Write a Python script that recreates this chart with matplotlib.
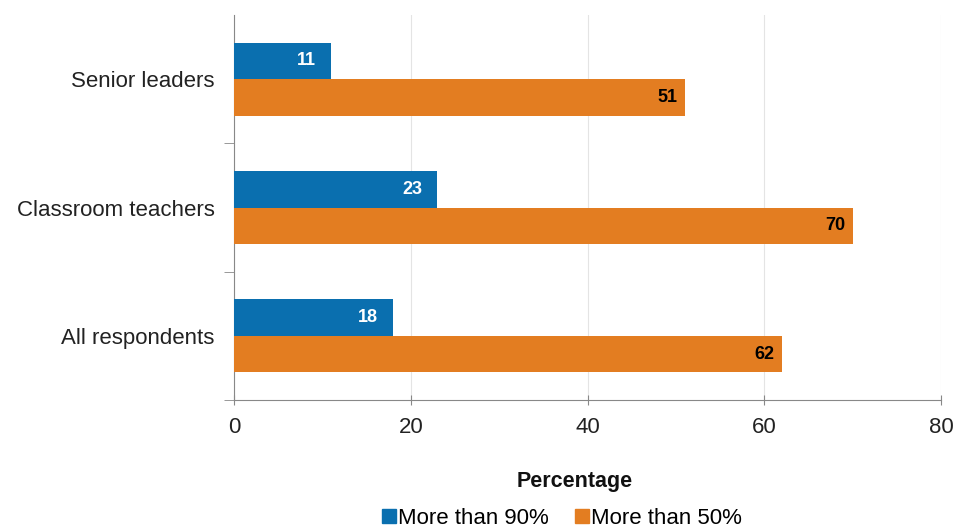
import matplotlib
matplotlib.use("Agg")
import matplotlib.pyplot as plt
import numpy as np
from matplotlib.patches import Patch

categories = ["Senior leaders", "Classroom teachers", "All respondents"]
more_than_90 = [11, 23, 18]
more_than_50 = [51, 70, 62]
series_names = ["More than 90%", "More than 50%"]
xticks = [0, 20, 40, 60, 80]

blue = "#0A6FAF"
orange = "#E37D21"

plt.rcParams['font.family'] = ['Liberation Sans', 'DejaVu Sans']

fig = plt.figure(figsize=(9.56, 5.28), dpi=100)
ax = fig.add_axes([234/956, 1-400/528, (941-234)/956, (400-15)/528])

y = np.arange(len(categories))
h = 0.285
ax.barh(y - h/2, more_than_90, height=h, color=blue, zorder=3)
ax.barh(y + h/2, more_than_50, height=h, color=orange, zorder=3)

for yi, v in zip(y, more_than_90):
    ax.text(v - 2.8, yi - h/2, str(v), ha='center', va='center', color='white',
            fontweight='bold', fontsize=13, zorder=4)
for yi, v in zip(y, more_than_50):
    ax.text(v - 2.0, yi + h/2, str(v), ha='center', va='center', color='black',
            fontweight='bold', fontsize=13, zorder=4)

ax.set_xlim(0, 80)
ax.set_ylim(2.5, -0.5)
ax.set_xticks(xticks)
ax.set_xticklabels([str(t) for t in xticks], fontsize=16, color='#222222')
ax.xaxis.grid(True, color='#e4e4e4', linewidth=0.8, zorder=0)
ax.set_yticks(y)
ax.set_yticklabels(categories, fontsize=16, color='#222222')
ax.tick_params(axis='y', length=0, pad=14)
ax.set_yticks([0.5, 1.5, 2.5], minor=True)
ax.tick_params(axis='y', which='minor', length=7, color='#888888', direction='out')
ax.tick_params(axis='x', length=7, color='#888888', direction='inout', pad=9)
for s in ['top', 'right']:
    ax.spines[s].set_visible(False)
for s in ['left', 'bottom']:
    ax.spines[s].set_color('#888888')

fig.text(575/956, 1-481/528, "Percentage", fontsize=15.5, fontweight='bold',
         ha='center', va='center', color='#111111')

handles = [Patch(color=blue), Patch(color=orange)]
fig.legend(handles, series_names, loc='center', bbox_to_anchor=(562/956, 1-518/528),
           ncol=2, frameon=False, fontsize=16, handlelength=0.6, handleheight=0.6,
           handletextpad=0.1, columnspacing=1.2, borderpad=0, borderaxespad=0)

fig.savefig("out.png", dpi=100)
